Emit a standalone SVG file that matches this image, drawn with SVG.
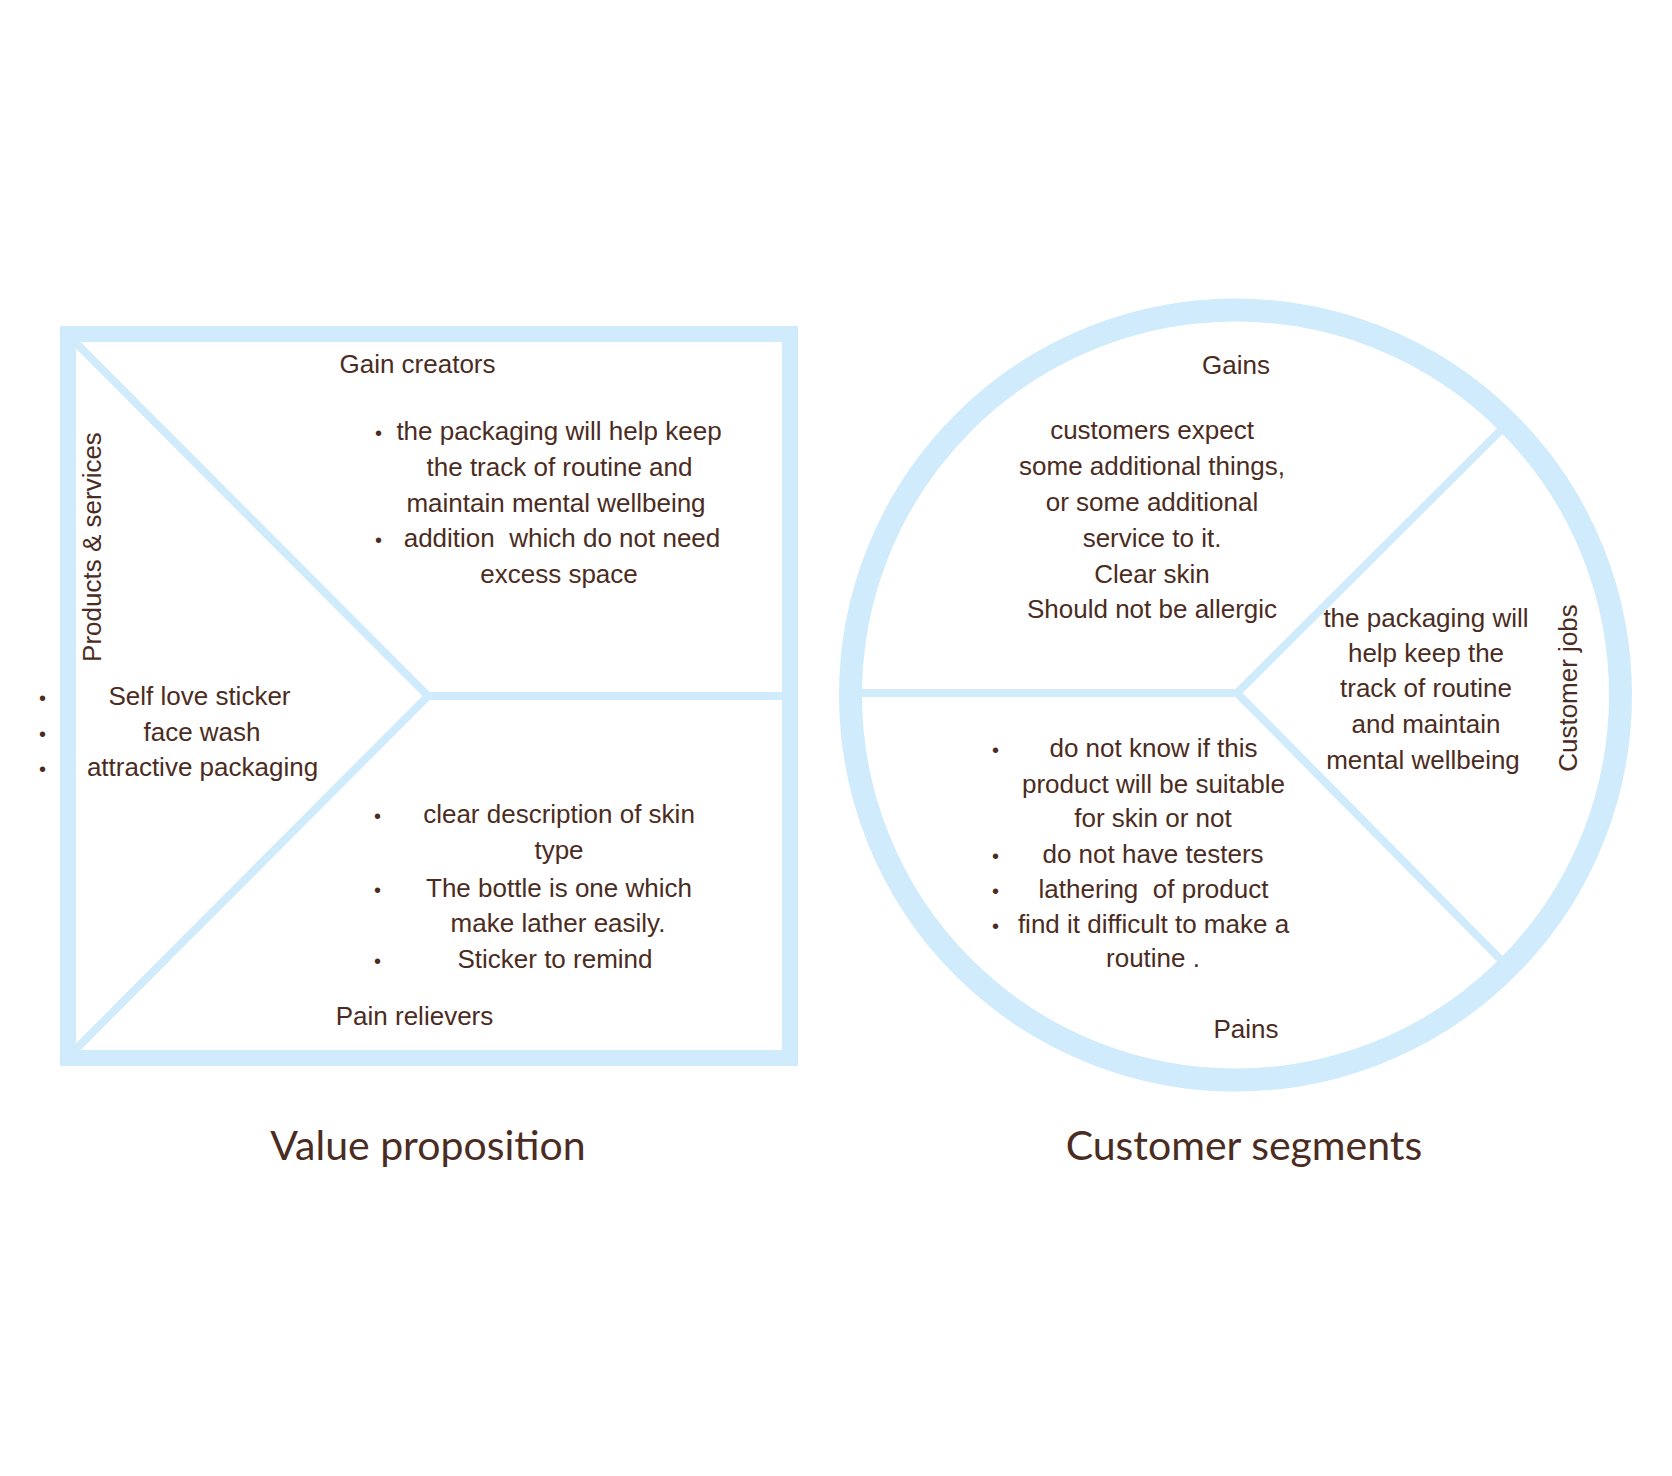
<svg xmlns="http://www.w3.org/2000/svg" width="1672" height="1476" viewBox="0 0 1672 1476">
<style>
.frame{fill:none;stroke:#d0ebfb;stroke-width:16}
.ring{fill:none;stroke:#d0ebfb;stroke-width:23}
.div{fill:none;stroke:#d0ebfb;stroke-width:8;stroke-linecap:butt}
text{font-family:"Liberation Sans",Arial,sans-serif;font-size:26px;fill:#4b2c22;text-anchor:middle;white-space:pre}
.b{font-size:20px}
.title{font-family:Lato,"Liberation Sans",sans-serif;font-size:41px}
</style>
<rect width="1672" height="1476" fill="#ffffff"/>
<g id="value-proposition">
<rect class="frame" x="68" y="334" width="722" height="724"/>
</g>
<g id="customer-segments">
<circle class="ring" cx="1235.5" cy="695" r="385"/>
</g>
<g id="connectors">
<polyline class="div" points="74,341 428,696 74,1051"/>
<line class="div" x1="428" y1="696" x2="783" y2="696"/>
<line class="div" x1="858" y1="693" x2="1237" y2="693"/>
<line class="div" x1="1237" y1="693" x2="1507" y2="424"/>
<line class="div" x1="1237" y1="693" x2="1507" y2="966"/>
</g>
<g id="gain-creators">
<text x="417.5" y="373">Gain creators</text>
<text class="b" x="378.5" y="440">•</text>
<text x="559" y="440">the packaging will help keep</text>
<text x="559.5" y="476">the track of routine and</text>
<text x="556" y="512">maintain mental wellbeing</text>
<text class="b" x="378.5" y="547">•</text>
<text x="562" y="547">addition  which do not need</text>
<text x="559" y="583">excess space</text>
</g>
<g id="products-services">
<text transform="translate(101,547) rotate(-90)">Products &amp; services</text>
<text class="b" x="42.5" y="705">•</text>
<text class="b" x="42.5" y="741">•</text>
<text class="b" x="42.5" y="776">•</text>
<text x="199.5" y="705">Self love sticker</text>
<text x="202" y="741">face wash</text>
<text x="202.5" y="776">attractive packaging</text>
</g>
<g id="pain-relievers">
<text class="b" x="377.5" y="823">•</text>
<text x="559" y="823">clear description of skin</text>
<text x="559" y="859">type</text>
<text class="b" x="377.5" y="897">•</text>
<text x="559" y="897">The bottle is one which</text>
<text x="558" y="932">make lather easily.</text>
<text class="b" x="377.5" y="968">•</text>
<text x="555" y="968">Sticker to remind</text>
<text x="414.5" y="1025">Pain relievers</text>
</g>
<g id="gains">
<text x="1236" y="374">Gains</text>
<text x="1152" y="439">customers expect</text>
<text x="1152" y="475">some additional things,</text>
<text x="1152" y="511">or some additional</text>
<text x="1152" y="547">service to it.</text>
<text x="1152" y="583">Clear skin</text>
<text x="1152" y="618">Should not be allergic</text>
</g>
<g id="customer-jobs">
<text x="1426" y="627">the packaging will</text>
<text x="1426" y="662">help keep the</text>
<text x="1426" y="697">track of routine</text>
<text x="1426" y="733">and maintain</text>
<text x="1423" y="769">mental wellbeing</text>
<text transform="translate(1577,688) rotate(-90)">Customer jobs</text>
</g>
<g id="pains">
<text class="b" x="995.5" y="757">•</text>
<text x="1153.5" y="757">do not know if this</text>
<text x="1153.5" y="793">product will be suitable</text>
<text x="1153" y="827">for skin or not</text>
<text class="b" x="995.5" y="863">•</text>
<text x="1153" y="863">do not have testers</text>
<text class="b" x="995.5" y="898">•</text>
<text x="1153.5" y="898">lathering  of product</text>
<text class="b" x="995.5" y="933">•</text>
<text x="1153.5" y="933">find it difficult to make a</text>
<text x="1153" y="967">routine .</text>
<text x="1246" y="1038">Pains</text>
</g>
<g id="titles">
<text class="title" x="428" y="1160">Value proposition</text>
<text class="title" x="1244" y="1160">Customer segments</text>
</g>
</svg>
